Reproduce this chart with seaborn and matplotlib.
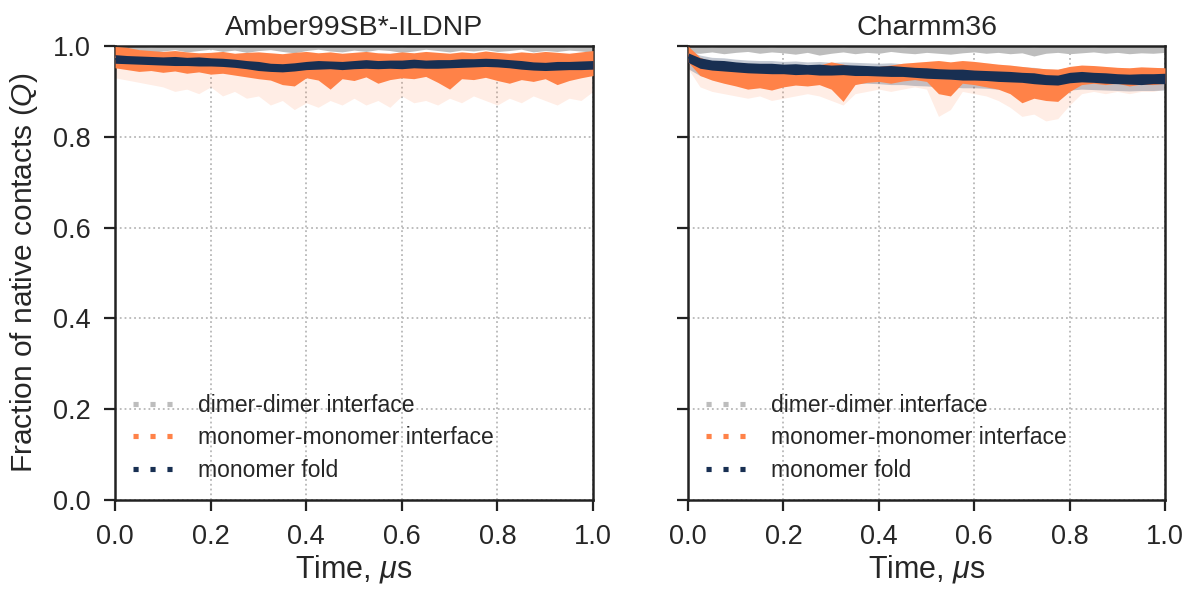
import matplotlib
matplotlib.use("Agg")
import matplotlib.pyplot as plt
from matplotlib.lines import Line2D
import numpy as np
import seaborn as sns

# time axis (microseconds), one sample every 0.025 us
time_us = np.linspace(0.0, 1.0, 41)

panel_titles = ["Amber99SB*-ILDNP", "Charmm36"]
series_labels = ["dimer-dimer interface", "monomer-monomer interface", "monomer fold"]

# ---- Amber99SB*-ILDNP ----
amber_dimer_hi = [
    1.000, 0.999, 1.000, 0.998, 1.000, 0.999, 1.000, 1.000, 0.999, 1.000,
    0.998, 1.000, 0.999, 1.000, 1.000, 0.999, 1.000, 0.998, 1.000, 0.999,
    1.000, 1.000, 0.999, 1.000, 0.998, 1.000, 0.999, 1.000, 1.000, 0.999,
    1.000, 0.998, 1.000, 0.999, 1.000, 1.000, 0.999, 1.000, 0.998, 1.000,
    0.999,
]
amber_dimer_lo = [
    0.990, 0.988, 0.991, 0.986, 0.989, 0.992, 0.987, 0.990, 0.993, 0.988,
    0.991, 0.986, 0.990, 0.992, 0.988, 0.985, 0.990, 0.993, 0.989, 0.987,
    0.991, 0.988, 0.992, 0.990, 0.986, 0.989, 0.993, 0.990, 0.987, 0.991,
    0.989, 0.992, 0.988, 0.990, 0.993, 0.987, 0.990, 0.988, 0.991, 0.989,
    0.986,
]
amber_mm_hi = [
    0.999, 0.997, 0.992, 0.990, 0.988, 0.990, 0.987, 0.985, 0.986, 0.988,
    0.984, 0.986, 0.987, 0.985, 0.983, 0.986, 0.988, 0.985, 0.987, 0.984,
    0.986, 0.988, 0.985, 0.984, 0.987, 0.985, 0.988, 0.986, 0.984, 0.987,
    0.985, 0.989, 0.986, 0.984, 0.987, 0.985, 0.988, 0.986, 0.984, 0.987,
    0.990,
]
amber_mm_lo = [
    0.952, 0.948, 0.944, 0.946, 0.942, 0.945, 0.940, 0.943, 0.938, 0.940,
    0.936, 0.932, 0.928, 0.925, 0.915, 0.912, 0.930, 0.925, 0.905, 0.928,
    0.924, 0.932, 0.918, 0.926, 0.930, 0.928, 0.933, 0.920, 0.905, 0.928,
    0.926, 0.931, 0.924, 0.918, 0.926, 0.922, 0.928, 0.915, 0.924, 0.930,
    0.935,
]
amber_mm_min = [
    0.930, 0.925, 0.920, 0.915, 0.910, 0.900, 0.905, 0.895, 0.910, 0.890,
    0.900, 0.885, 0.890, 0.870, 0.880, 0.860, 0.875, 0.865, 0.880, 0.870,
    0.885, 0.870, 0.880, 0.865, 0.890, 0.875, 0.880, 0.870, 0.885, 0.875,
    0.890, 0.880, 0.870, 0.885, 0.875, 0.890, 0.880, 0.870, 0.885, 0.880,
    0.900,
]
amber_fold_hi = [
    0.981, 0.979, 0.978, 0.977, 0.976, 0.977, 0.975, 0.976, 0.974, 0.973,
    0.971, 0.968, 0.966, 0.962, 0.961, 0.963, 0.966, 0.968, 0.967, 0.966,
    0.968, 0.970, 0.968, 0.969, 0.969, 0.971, 0.969, 0.970, 0.970, 0.972,
    0.972, 0.973, 0.972, 0.970, 0.968, 0.965, 0.964, 0.966, 0.966, 0.967,
    0.968,
]
amber_fold_lo = [
    0.962, 0.961, 0.960, 0.959, 0.958, 0.957, 0.957, 0.956, 0.956, 0.955,
    0.953, 0.950, 0.946, 0.944, 0.943, 0.945, 0.948, 0.949, 0.950, 0.948,
    0.950, 0.951, 0.950, 0.951, 0.950, 0.952, 0.951, 0.951, 0.952, 0.953,
    0.954, 0.955, 0.954, 0.952, 0.949, 0.947, 0.946, 0.947, 0.948, 0.948,
    0.949,
]
amber_fold_max = [
    0.987, 0.985, 0.984, 0.983, 0.982, 0.983, 0.981, 0.982, 0.980, 0.979,
    0.977, 0.974, 0.972, 0.968, 0.967, 0.969, 0.972, 0.974, 0.973, 0.972,
    0.974, 0.976, 0.974, 0.975, 0.975, 0.977, 0.975, 0.976, 0.976, 0.978,
    0.978, 0.979, 0.978, 0.976, 0.974, 0.971, 0.970, 0.972, 0.972, 0.973,
    0.974,
]
amber_fold_min = [
    0.954, 0.953, 0.952, 0.951, 0.950, 0.949, 0.949, 0.948, 0.948, 0.947,
    0.945, 0.942, 0.938, 0.936, 0.935, 0.937, 0.940, 0.941, 0.942, 0.940,
    0.942, 0.943, 0.942, 0.943, 0.942, 0.944, 0.943, 0.943, 0.944, 0.945,
    0.946, 0.947, 0.946, 0.944, 0.941, 0.939, 0.938, 0.939, 0.940, 0.940,
    0.941,
]

# ---- Charmm36 ----
charmm_dimer_hi = [
    0.999, 1.000, 0.998, 1.000, 0.999, 1.000, 1.000, 0.998, 1.000, 0.999,
    1.000, 0.999, 1.000, 0.998, 1.000, 1.000, 0.999, 1.000, 0.998, 1.000,
    0.999, 1.000, 1.000, 0.998, 1.000, 0.999, 1.000, 0.999, 1.000, 0.998,
    1.000, 1.000, 0.999, 1.000, 0.998, 1.000, 0.999, 1.000, 1.000, 0.999,
    1.000,
]
charmm_dimer_lo = [
    0.985, 0.984, 0.987, 0.983, 0.986, 0.988, 0.984, 0.987, 0.985, 0.982,
    0.986, 0.980, 0.984, 0.987, 0.983, 0.986, 0.984, 0.988, 0.985, 0.983,
    0.986, 0.984, 0.982, 0.985, 0.987, 0.984, 0.986, 0.983, 0.985, 0.978,
    0.984, 0.986, 0.983, 0.985, 0.987, 0.984, 0.986, 0.983, 0.985, 0.984,
    0.986,
]
charmm_mm_hi = [
    1.000, 0.975, 0.965, 0.962, 0.958, 0.957, 0.956, 0.955, 0.955, 0.953,
    0.955, 0.958, 0.965, 0.960, 0.954, 0.952, 0.955, 0.958, 0.962, 0.964,
    0.966, 0.968, 0.965, 0.968, 0.966, 0.963, 0.960, 0.958, 0.955, 0.952,
    0.950, 0.949, 0.955, 0.958, 0.957, 0.955, 0.953, 0.952, 0.954, 0.953,
    0.952,
]
charmm_mm_lo = [
    0.965, 0.935, 0.925, 0.918, 0.912, 0.905, 0.908, 0.903, 0.910, 0.914,
    0.912, 0.915, 0.905, 0.878, 0.915, 0.920, 0.922, 0.918, 0.923, 0.926,
    0.922, 0.895, 0.890, 0.918, 0.915, 0.910, 0.905, 0.895, 0.875, 0.885,
    0.880, 0.878, 0.900, 0.915, 0.918, 0.915, 0.918, 0.912, 0.916, 0.915,
    0.918,
]
charmm_mm_min = [
    0.950, 0.910, 0.900, 0.895, 0.890, 0.885, 0.890, 0.880, 0.885, 0.890,
    0.895, 0.890, 0.880, 0.870, 0.895, 0.900, 0.905, 0.900, 0.905, 0.910,
    0.905, 0.845, 0.860, 0.900, 0.895, 0.890, 0.880, 0.865, 0.845, 0.850,
    0.835, 0.840, 0.870, 0.895, 0.900, 0.895, 0.900, 0.895, 0.900, 0.900,
    0.905,
]
charmm_fold_hi = [
    0.985, 0.974, 0.969, 0.968, 0.965, 0.963, 0.962, 0.962, 0.960, 0.961,
    0.959, 0.960, 0.958, 0.959, 0.958, 0.957, 0.956, 0.957, 0.955, 0.953,
    0.952, 0.950, 0.949, 0.949, 0.947, 0.946, 0.945, 0.944, 0.942, 0.941,
    0.937, 0.936, 0.942, 0.944, 0.942, 0.941, 0.939, 0.938, 0.939, 0.939,
    0.940,
]
charmm_fold_lo = [
    0.964, 0.951, 0.947, 0.945, 0.943, 0.941, 0.940, 0.939, 0.939, 0.937,
    0.938, 0.936, 0.936, 0.937, 0.935, 0.935, 0.934, 0.933, 0.933, 0.931,
    0.929, 0.928, 0.927, 0.925, 0.925, 0.924, 0.922, 0.921, 0.920, 0.917,
    0.915, 0.914, 0.919, 0.921, 0.920, 0.918, 0.917, 0.916, 0.915, 0.917,
    0.917,
]
charmm_fold_max = [
    0.990, 0.980, 0.975, 0.974, 0.971, 0.969, 0.968, 0.968, 0.966, 0.967,
    0.965, 0.966, 0.964, 0.965, 0.964, 0.963, 0.962, 0.963, 0.961, 0.959,
    0.964, 0.962, 0.961, 0.961, 0.959, 0.958, 0.957, 0.956, 0.954, 0.953,
    0.949, 0.948, 0.954, 0.956, 0.954, 0.953, 0.951, 0.950, 0.951, 0.951,
    0.952,
]
charmm_fold_min = [
    0.950, 0.935, 0.930, 0.928, 0.926, 0.925, 0.924, 0.922, 0.922, 0.921,
    0.920, 0.920, 0.919, 0.920, 0.918, 0.918, 0.917, 0.915, 0.915, 0.913,
    0.912, 0.910, 0.910, 0.908, 0.908, 0.907, 0.905, 0.904, 0.903, 0.902,
    0.900, 0.900, 0.903, 0.905, 0.904, 0.903, 0.902, 0.901, 0.902, 0.902,
    0.903,
]

GREY = "#bdbdbd"
ORANGE = "#ff8248"
NAVY = "#182f52"
DOTS = (0, (1, 2.3))

sns.set_theme(style="ticks")
plt.rcParams["font.family"] = ["Liberation Sans", "DejaVu Sans"]
plt.rcParams["mathtext.fontset"] = "custom"
plt.rcParams["mathtext.it"] = "Liberation Sans:italic"
plt.rcParams["mathtext.rm"] = "Liberation Sans"

panels = [
    dict(
        dimer=(amber_dimer_lo, amber_dimer_hi),
        mm=(amber_mm_lo, amber_mm_hi, amber_mm_min),
        fold=(amber_fold_lo, amber_fold_hi, amber_fold_min, amber_fold_max),
    ),
    dict(
        dimer=(charmm_dimer_lo, charmm_dimer_hi),
        mm=(charmm_mm_lo, charmm_mm_hi, charmm_mm_min),
        fold=(charmm_fold_lo, charmm_fold_hi, charmm_fold_min, charmm_fold_max),
    ),
]

fig = plt.figure(figsize=(11.96, 5.96), dpi=100)
ax_left = fig.add_axes([0.0962, 0.1611, 0.3996, 0.7617])
ax_right = fig.add_axes([0.5753, 0.1611, 0.3988, 0.7617], sharey=ax_left)

for ax, title, p in zip([ax_left, ax_right], panel_titles, panels):
    d_lo, d_hi = (np.asarray(a) for a in p["dimer"])
    m_lo, m_hi, m_min = (np.asarray(a) for a in p["mm"])
    f_lo, f_hi, f_min, f_max = (np.asarray(a) for a in p["fold"])

    # light spread bands
    ax.fill_between(time_us, m_min, m_hi, color=ORANGE, alpha=0.14, lw=0, zorder=1)
    ax.fill_between(time_us, f_min, f_max, color=NAVY, alpha=0.25, lw=0, zorder=1)

    # dense trajectory envelopes, each with its centre trace
    for lo, hi, color, z in [(d_lo, d_hi, GREY, 2), (m_lo, m_hi, ORANGE, 3), (f_lo, f_hi, NAVY, 4)]:
        ax.fill_between(time_us, lo, hi, color=color, lw=0, zorder=z)
        sns.lineplot(x=time_us, y=(lo + hi) / 2, ax=ax, color=color, lw=1.0, zorder=z + 0.5)

    handles = [Line2D([], [], color=c, lw=3.7, linestyle=DOTS) for c in (GREY, ORANGE, NAVY)]
    ax.legend(handles, series_labels, loc="lower left", frameon=False, fontsize=16.5,
              handlelength=1.75, handletextpad=1.05, labelspacing=0.4,
              borderaxespad=0.4, borderpad=0.4)

    ax.set_xlim(0, 1)
    ax.set_ylim(0, 1)
    ax.set_xticks([0.0, 0.2, 0.4, 0.6, 0.8, 1.0])
    ax.set_yticks([0.0, 0.2, 0.4, 0.6, 0.8, 1.0])
    ax.grid(True, linestyle=":", color="#b8b8b8", linewidth=1.3)
    ax.set_axisbelow(True)
    ax.set_title(title, fontsize=20.5, pad=8)
    ax.set_xlabel(r"Time, $\mu$s", fontsize=22, labelpad=2)
    ax.tick_params(direction="out", length=8, width=1.6, labelsize=19.5, color="#222222",
                   labelcolor="#262626", pad=9.5)
    for s in ax.spines.values():
        s.set_linewidth(1.8)
        s.set_color("#222222")

ax_left.set_ylabel(r"Fraction of native contacts ($Q$)", fontsize=21.5, labelpad=9)
ax_right.set_ylabel("")
plt.setp(ax_right.get_yticklabels(), visible=False)

fig.savefig("out.png", dpi=100)
